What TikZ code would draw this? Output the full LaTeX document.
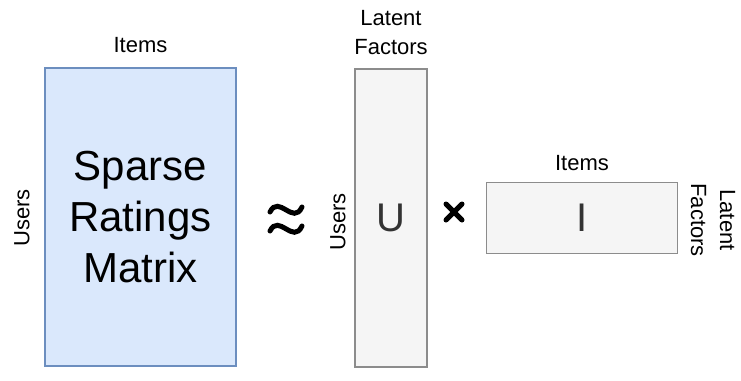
\documentclass[tikz,border=0pt]{standalone}
\usepackage{fontspec}
\setmainfont{Liberation Sans}
\definecolor{blueFill}{HTML}{DAE8FC}
\definecolor{blueLine}{HTML}{6C8EBF}
\definecolor{grayFill}{HTML}{F5F5F5}
\definecolor{grayLine}{HTML}{8C8C8C}
\definecolor{grayText}{HTML}{333333}
\tikzset{
  matbox/.style={draw, line width=1.2pt, inner sep=0pt},
  lbl/.style={font=\fontsize{22}{29}\selectfont, align=center, inner sep=0pt},
  sym/.style={line width=5pt, line cap=round},
}
\begin{document}
\begin{tikzpicture}[x=1pt, y=-1pt]
\useasboundingbox (0,0) rectangle (741,380);
% ratings matrix
\node[matbox, fill=blueFill, draw=blueLine, minimum width=191pt, minimum height=298pt,
  font=\fontsize{42}{51}\selectfont, align=center] (P_R) at (140.5,217) {Sparse\\Ratings\\Matrix};
\node[lbl] (P_R_top) at (140.5,45) {Items};
\node[lbl, rotate=90] (P_R_left) at (22,218) {Users};
% approx sign
\draw[sym] (270,212) .. controls (279,194) and (293,226) .. (302,207);
\draw[sym] (270,231) .. controls (279,213) and (293,245) .. (302,226);
% user factors
\node[matbox, fill=grayFill, draw=grayLine, text=grayText, minimum width=72pt, minimum height=298pt,
  font=\fontsize{40}{48}\selectfont] (P_U) at (391,218) {U};
\node[lbl] (P_U_top) at (391,33) {Latent\\Factors};
\node[lbl, rotate=90] (P_U_left) at (338,222) {Users};
% times sign
\draw[sym] (446,204) -- (462,220);
\draw[sym] (446,220) -- (462,204);
% item factors
\node[matbox, fill=grayFill, draw=grayLine, text=grayText, minimum width=191pt, minimum height=71pt,
  font=\fontsize{40}{48}\selectfont] (P_I) at (582,218) {I};
\node[lbl] (P_I_top) at (582,163) {Items};
\node[lbl, rotate=-90] (P_I_right) at (713,220) {Latent\\Factors};
\end{tikzpicture}
\end{document}
